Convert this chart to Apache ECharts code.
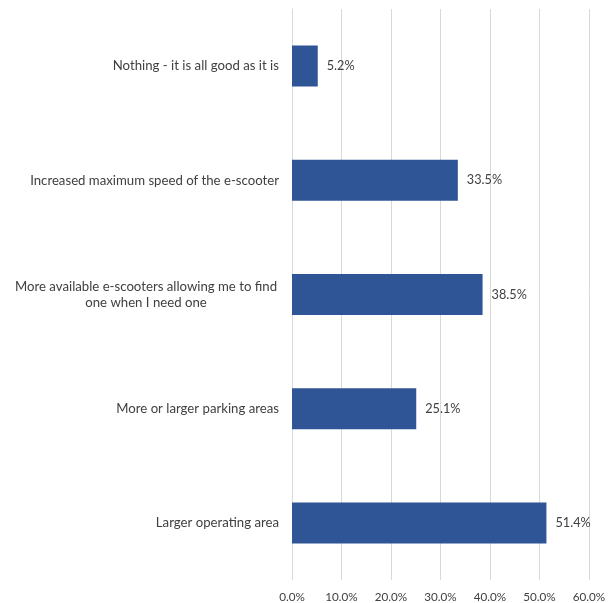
<!DOCTYPE html>
<html>
<head>
<meta charset="utf-8">
<script src="https://cdn.jsdelivr.net/npm/echarts@6/dist/echarts.min.js"></script>
<style>
  html, body { margin: 0; padding: 0; background: #fff; }
  #chart { width: 611px; height: 603px; }
</style>
</head>
<body>
<div id="chart"></div>
<script>
// Improvement options, listed top to bottom
const categories = [
  'Nothing - it is all good as it is',
  'Increased maximum speed of the e-scooter',
  'More available e-scooters allowing me to find\none when I need one',
  'More or larger parking areas',
  'Larger operating area'
];
// Share of respondents (%)
const shares = [5.2, 33.5, 38.5, 25.1, 51.4];
// X-axis ticks (%)
const axisMin = 0;
const axisMax = 60;
const axisStep = 10;

const FONT = 'Lato';
const TEXT = '#404040';

const chart = echarts.init(document.getElementById('chart'));
chart.setOption({
  animation: false,
  grid: { left: 292, right: 22, top: 9, bottom: 23, containLabel: false },
  xAxis: {
    type: 'value',
    min: axisMin,
    max: axisMax,
    interval: axisStep,
    axisLine: { show: false },
    axisTick: { show: false },
    splitLine: { show: true, lineStyle: { color: '#d9d9d9', width: 1 } },
    axisLabel: {
      margin: 11,
      color: TEXT,
      fontFamily: FONT,
      fontSize: 11.7,
      formatter: v => v.toFixed(1) + '%'
    }
  },
  yAxis: {
    type: 'category',
    data: categories,
    inverse: true,
    axisLine: { show: true, lineStyle: { color: '#d9d9d9' } },
    axisTick: { show: false },
    axisLabel: {
      margin: 13,
      color: TEXT,
      fontFamily: FONT,
      fontSize: 13.2,
      lineHeight: 16.5,
      formatter: v => v.indexOf('\n') >= 0
        ? v.split('\n').map(s => '{c|' + s + '}').join('\n')
        : v,
      rich: {
        c: { width: 266, align: 'center', color: TEXT, fontFamily: FONT, fontSize: 13.2, lineHeight: 16.5 }
      }
    }
  },
  series: [{
    type: 'bar',
    data: shares,
    barWidth: 41,
    itemStyle: { color: '#2f5597' },
    label: {
      show: true,
      position: 'right',
      distance: 9,
      color: TEXT,
      fontFamily: FONT,
      fontSize: 12.7,
      formatter: p => p.value.toFixed(1) + '%'
    }
  }]
});
</script>
</body>
</html>
